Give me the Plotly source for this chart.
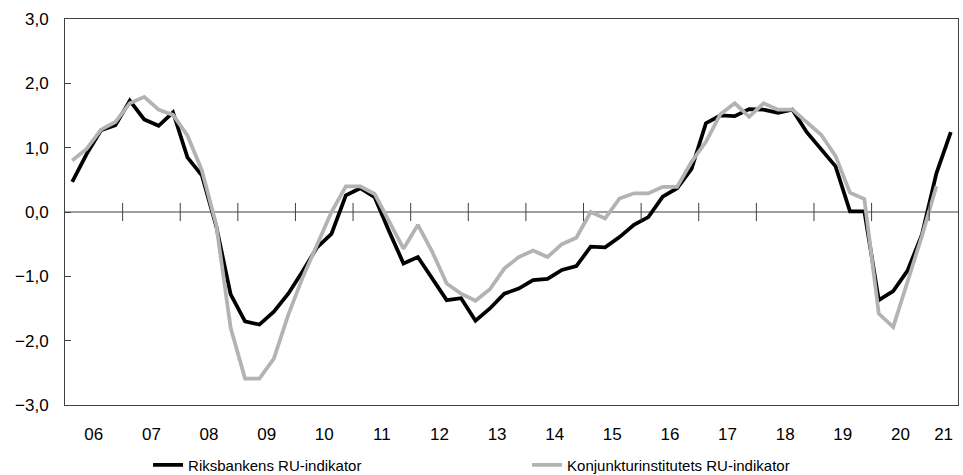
import plotly.graph_objects as go

# Quarterly categories 2006K1 .. 2021K2
years = list(range(2006, 2022))
quarters = [f"{y}K{q}" for y in years for q in (1, 2, 3, 4)][:62]
year_labels = ["06", "07", "08", "09", "10", "11", "12", "13", "14", "15",
               "16", "17", "18", "19", "20", "21"]

riksbanken = [0.47, 0.90, 1.27, 1.35, 1.73, 1.44, 1.34, 1.55, 0.85, 0.57,
              -0.22, -1.28, -1.70, -1.75, -1.55, -1.27, -0.92, -0.55, -0.34, 0.26,
              0.37, 0.23, -0.30, -0.80, -0.70, -1.04, -1.37, -1.34, -1.69, -1.50,
              -1.27, -1.19, -1.06, -1.04, -0.90, -0.84, -0.54, -0.55, -0.39, -0.20,
              -0.08, 0.24, 0.37, 0.67, 1.38, 1.50, 1.49, 1.60, 1.59, 1.54,
              1.59, 1.24, 0.98, 0.71, 0.01, 0.01, -1.37, -1.23, -0.91, -0.35,
              0.60, 1.24]

konjunktur = [0.80, 0.98, 1.28, 1.40, 1.69, 1.79, 1.59, 1.51, 1.19, 0.65,
              -0.20, -1.80, -2.59, -2.59, -2.28, -1.60, -1.02, -0.50, 0.00, 0.40,
              0.40, 0.28, -0.15, -0.57, -0.20, -0.62, -1.11, -1.27, -1.38, -1.20,
              -0.88, -0.70, -0.60, -0.70, -0.50, -0.40, 0.00, -0.10, 0.21, 0.29,
              0.29, 0.39, 0.39, 0.78, 1.09, 1.52, 1.69, 1.48, 1.69, 1.59,
              1.59, 1.40, 1.20, 0.87, 0.30, 0.20, -1.58, -1.79, -1.10, -0.37,
              0.40]

series_names = ["Riksbankens RU-indikator", "Konjunkturinstitutets RU-indikator"]

FONT = "Liberation Sans, Arial, sans-serif"

n = len(quarters)
xi = list(range(n))
# year label positions: centre of each year's quarters
label_pos = []
for k, lab in enumerate(year_labels):
    idx = [i for i, q in enumerate(quarters) if q.startswith(str(2006 + k))]
    label_pos.append(sum(idx) / len(idx))
# year boundaries for tick marks on zero line
bounds = [i - 0.5 for i, q in enumerate(quarters) if q.endswith("K1") and i > 0]

fig = go.Figure()
fig.add_trace(go.Scatter(x=xi[:len(riksbanken)], y=riksbanken, mode="lines",
                         name=series_names[0], line=dict(color="#000000", width=3.75)))
fig.add_trace(go.Scatter(x=xi[:len(konjunktur)], y=konjunktur, mode="lines",
                         name=series_names[1], line=dict(color="#b3b3b3", width=3.75)))
# tick marks crossing the zero line
fig.add_trace(go.Scatter(x=bounds, y=[0] * len(bounds), mode="markers",
                         marker=dict(symbol="line-ns-open", size=13, color="#404040",
                                     line=dict(color="#404040", width=1)),
                         showlegend=False, hoverinfo="skip"))

fig.add_shape(type="line", xref="paper", yref="y", x0=0, x1=1, y0=0, y1=0,
              line=dict(color="#404040", width=1), layer="below")

fig.update_layout(
    width=963, height=475,
    margin=dict(l=65, r=5, t=19, b=70, autoexpand=False),
    paper_bgcolor="white", plot_bgcolor="white",
    separators=", ",
    font=dict(family=FONT, size=17, color="#000000"),
    showlegend=True,
    legend=dict(orientation="h", x=0.093, xanchor="left",
                yref="container", y=0.021, yanchor="middle",
                entrywidth=334, entrywidthmode="pixels",
                font=dict(family=FONT, size=15, color="#000000"),
                traceorder="normal"),
)
fig.update_xaxes(range=[-0.5, n - 0.5], tickmode="array", tickvals=label_pos,
                 ticktext=year_labels, showgrid=False, zeroline=False,
                 showline=True, linecolor="#404040", linewidth=1, mirror=True,
                 ticks="", ticklabelstandoff=14, automargin=False,
                 tickfont=dict(size=17))
fig.update_yaxes(range=[-3, 3], dtick=1, tick0=-3, tickformat=".1f",
                 showgrid=False, zeroline=False,
                 showline=True, linecolor="#404040", linewidth=1, mirror=True,
                 ticks="inside", ticklen=6, tickcolor="#404040",
                 ticklabelstandoff=12, automargin=False,
                 tickfont=dict(size=17))

fig.write_html("out.html", config={"displayModeBar": False},
               post_script="document.body.style.margin='0';")
